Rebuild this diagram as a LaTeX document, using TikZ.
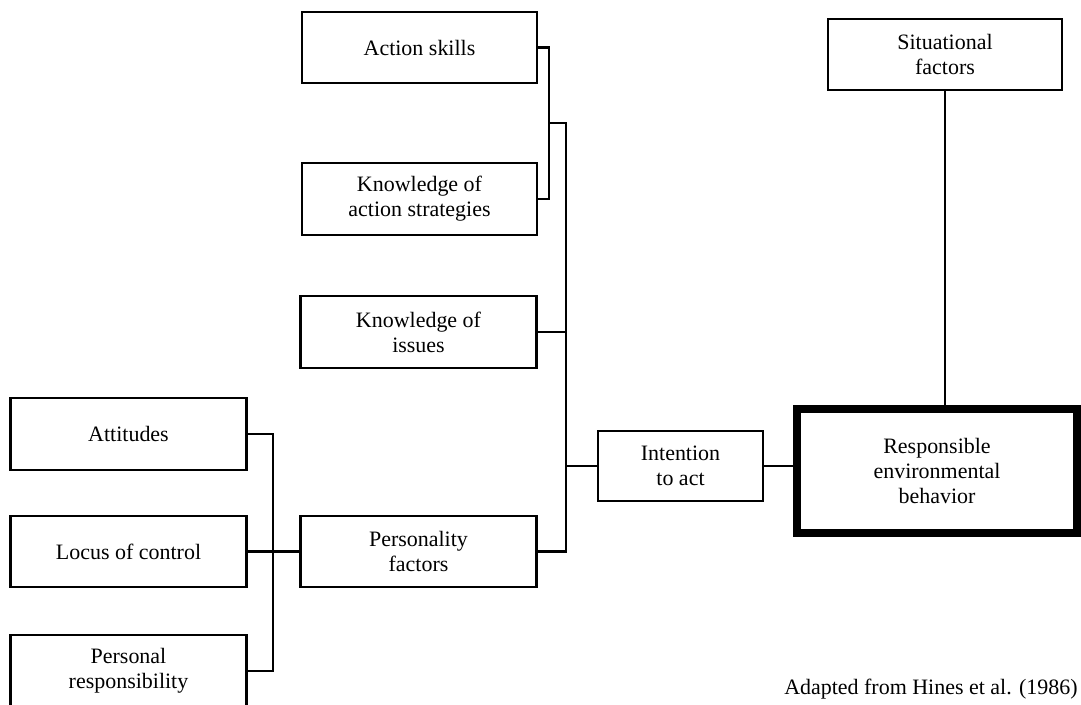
\documentclass[tikz,border=0pt]{standalone}
\usepackage{fontspec}
\setmainfont{Liberation Serif}
\usetikzlibrary{calc,positioning}

\begin{document}
\begin{tikzpicture}[
    font=\fontsize{12.5}{14.2}\selectfont,
    box/.style={draw, line width=1.3pt, align=center, minimum width=4.72cm, minimum height=1.43cm, inner sep=2pt},
    link/.style={line width=1.3pt}
  ]
  \useasboundingbox (0,0) rectangle (21.62,14.08);

  % ---------- knowledge and skills column ----------
  \node[box, minimum width=4.70cm] (skills) at (8.39,13.13) {Action skills};
  \node[box, minimum width=4.70cm] (strat)  at (8.39,10.10) {Knowledge of\\action strategies};
  \node[box] (issues) at (8.37,7.44) {Knowledge of\\issues};
  \node[box] (pers)   at (8.37,3.05) {Personality\\factors};

  % ---------- personality components ----------
  \node[box] (attit) at (2.57,5.40) {Attitudes};
  \node[box] (locus) at (2.57,3.05) {Locus of control};
  \node[box] (resp)  at (2.57,0.66) {Personal\\responsibility};

  % ---------- intention and behavior ----------
  \node[box, minimum width=3.30cm, minimum height=1.40cm] (intent) at (13.61,4.76) {Intention\\to act};
  \node[box, minimum width=4.68cm] (situ) at (18.90,12.99) {Situational\\factors};
  \node[box, line width=4.5pt, minimum width=5.60cm, minimum height=2.48cm] (behav) at (18.74,4.66)
    {Responsible\\environmental\\behavior};

  \coordinate (bra) at (10.98,0);
  \coordinate (trunk) at (11.32,0);
  \coordinate (lbra) at (5.46,0);

  % bracket joining skills and strategies
  \draw[link] (skills.east) -- (skills.east -| bra) -- (strat.east -| bra) -- (strat.east);
  \draw[link] ($(skills.east -| bra)!0.5!(strat.east -| bra)$) coordinate (bmid) -- (bmid -| trunk)
    -- (pers.east -| trunk) -- (pers.east);
  \draw[link] (issues.east) -- (issues.east -| trunk);
  \draw[link] (intent.west -| trunk) -- (intent.west);

  % bracket on the left
  \draw[link] (attit.east) -- (attit.east -| lbra) -- (resp.east -| lbra) -- (resp.east);
  \draw[link] (locus.east) -- (locus.east -| pers.west);

  % to the behavior box
  \draw[link] (intent.east) -- (intent.east -| behav.west);
  \draw[link] (situ.south) -- (situ.south |- behav.north);

  \node[anchor=south east, inner sep=0pt] (src) at (21.56,0.08) {Adapted from Hines et al. (1986)};
\end{tikzpicture}
\end{document}
